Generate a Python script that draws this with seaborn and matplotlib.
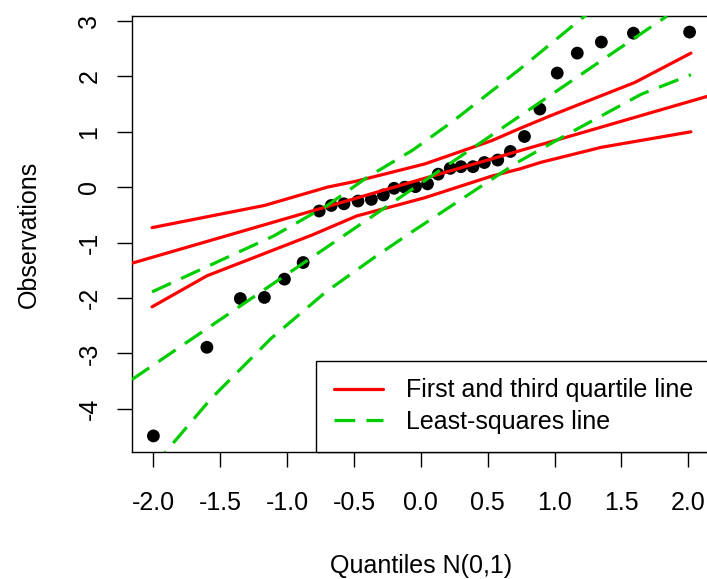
import numpy as np
import pandas as pd
import matplotlib
matplotlib.use("Agg")
import matplotlib.pyplot as plt
import seaborn as sns
from matplotlib.lines import Line2D

# ---- data ----
theoretical = [-2.00, -1.60, -1.35, -1.17, -1.02, -0.88, -0.76, -0.67, -0.575, -0.47,
               -0.37, -0.28, -0.20, -0.12, -0.04, 0.05, 0.13, 0.22, 0.30, 0.39,
               0.475, 0.575, 0.67, 0.775, 0.89, 1.02, 1.17, 1.35, 1.59, 2.01]
observed = [-4.49, -2.89, -2.01, -1.99, -1.66, -1.36, -0.43, -0.33, -0.30, -0.25,
            -0.22, -0.14, -0.02, 0.00, 0.01, 0.06, 0.235, 0.34, 0.37, 0.37,
            0.445, 0.49, 0.645, 0.915, 1.41, 2.06, 2.42, 2.62, 2.78, 2.80]

quartile_intercept = 0.14
quartile_slope = 0.70
ls_intercept = 0.07
ls_slope = 1.64

red_upper_x = [-2.01, -1.17, -0.70, -0.48, 0.03, 0.28, 0.53, 0.74, 0.97, 1.60, 2.02]
red_upper_y = [-0.73, -0.33, 0.00, 0.11, 0.42, 0.63, 0.84, 1.06, 1.29, 1.89, 2.42]
red_lower_x = [-2.01, -1.60, -0.81, -0.48, 0.03, 0.53, 0.74, 0.90, 1.35, 2.02]
red_lower_y = [-2.16, -1.60, -0.86, -0.52, -0.19, 0.20, 0.33, 0.45, 0.72, 1.00]

green_upper_x = [-2.01, -1.10, -0.70, -0.40, -0.06, 0.24, 0.74, 1.20, 2.02]
green_upper_y = [-1.89, -0.88, -0.33, 0.18, 0.67, 1.19, 2.13, 3.04, 4.60]
green_lower_x = [-2.01, -1.93, -1.57, -1.12, -0.71, -0.34, -0.10, 0.72, 1.10, 1.65, 2.02]
green_lower_y = [-5.05, -4.84, -3.82, -2.73, -1.89, -1.255, -0.86, 0.445, 0.96, 1.68, 2.03]

x_ticks = [-2.0, -1.5, -1.0, -0.5, 0.0, 0.5, 1.0, 1.5, 2.0]
x_tick_labels = ["-2.0", "-1.5", "-1.0", "-0.5", "0.0", "0.5", "1.0", "1.5", "2.0"]
y_ticks = [-4, -3, -2, -1, 0, 1, 2, 3]
y_tick_labels = ["-4", "-3", "-2", "-1", "0", "1", "2", "3"]
legend_labels = ["First and third quartile line", "Least-squares line"]

RED = "#FF0000"
GREEN = "#00CD00"
LW = 2.3
DASH = (0, (6.5, 3.5))
FS = 18

sns.set_style("ticks")
plt.rcParams["font.family"] = ["Liberation Sans", "DejaVu Sans"]
plt.rcParams.update({"text.color": "black", "axes.labelcolor": "black",
                     "xtick.color": "black", "ytick.color": "black",
                     "axes.edgecolor": "black"})

W, H = 707, 579
fig = plt.figure(figsize=(W / 100, H / 100), dpi=100)
ax = fig.add_axes([132 / W, (H - 452) / H, (711 - 132) / W, (452 - 16) / H])

sns.scatterplot(x=theoretical, y=observed, ax=ax, color="black", s=85,
                edgecolor="none", linewidth=0, zorder=2)

for xs, ys in [(red_upper_x, red_upper_y), (red_lower_x, red_lower_y)]:
    sns.lineplot(x=xs, y=ys, ax=ax, color=RED, lw=LW, estimator=None,
                 sort=False, zorder=3)
ax.axline((0, quartile_intercept), slope=quartile_slope, color=RED, lw=LW, zorder=3)

for xs, ys in [(green_upper_x, green_upper_y), (green_lower_x, green_lower_y)]:
    sns.lineplot(x=xs, y=ys, ax=ax, color=GREEN, lw=LW, estimator=None,
                 sort=False, zorder=3, linestyle=DASH)
ax.axline((0, ls_intercept), slope=ls_slope, color=GREEN, lw=LW, linestyle=DASH, zorder=3)

ax.set_xlim(-2.16, 2.17)
ax.set_ylim(-4.78, 3.09)

ax.set_xticks(x_ticks)
ax.set_xticklabels(x_tick_labels, fontsize=FS)
ax.set_yticks(y_ticks)
ax.set_yticklabels(y_tick_labels, fontsize=FS, rotation=90, va="center")
ax.tick_params(axis="both", direction="out", length=11, width=1.0, color="black",
               labelcolor="black")
ax.tick_params(axis="x", pad=17)
ax.tick_params(axis="y", pad=11)

for sp in ax.spines.values():
    sp.set_linewidth(1.0)
    sp.set_color("black")

ax.set_xlabel("Quantiles N(0,1)", fontsize=FS, labelpad=28)
ax.set_ylabel("Observations", fontsize=FS, labelpad=26)

handles = [Line2D([], [], color=RED, lw=LW),
           Line2D([], [], color=GREEN, lw=LW, linestyle=DASH)]
leg = ax.legend(handles, legend_labels, loc="lower right", borderaxespad=0,
                frameon=True, fancybox=False, edgecolor="black", framealpha=1,
                handlelength=1.96, handletextpad=0.92, borderpad=0.72,
                labelspacing=0.3, fontsize=FS)
leg.get_frame().set_linewidth(1.0)

fig.savefig("out.png", dpi=100)
